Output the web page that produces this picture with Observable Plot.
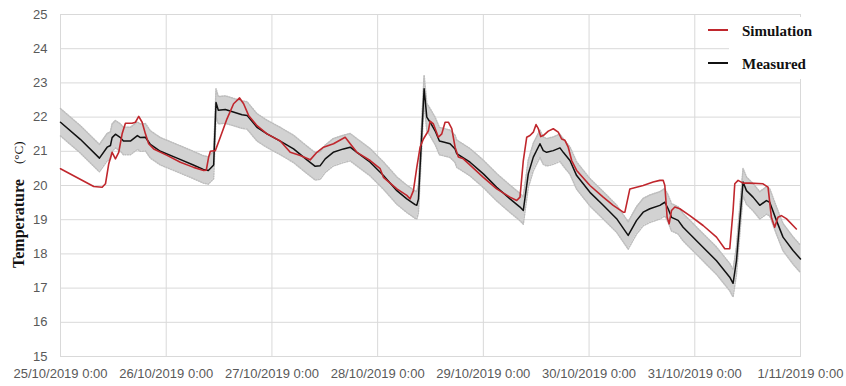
<!DOCTYPE html>
<html>
<head>
<meta charset="utf-8">
<script src="https://cdn.jsdelivr.net/npm/d3@7"></script>
<script src="https://cdn.jsdelivr.net/npm/@observablehq/plot@0.6"></script>
<style>
  body { margin: 0; background: #fff; }
  #chart svg { display: block; }
</style>
</head>
<body>
<div id="chart"></div>
<script>
// Hours since 25/10/2019 0:00 and measured indoor temperature (°C)
const measuredHours = [0, 4.5, 8.84, 10.59, 11.34, 11.72, 12.47, 13.61, 14.29, 15.87, 17.46, 18.14, 19.28, 20.41, 22.68, 26.47, 30.16, 32.43, 33.56, 34.40, 34.77,
  35.31, 35.83, 37.42, 39.23, 41.21, 42.34, 44.61, 46.88, 49.89, 52.91, 55.95, 57.83, 58.96, 60.10, 61.91, 64.25, 65.77, 67.29, 70.30, 73.32, 76.36, 78.62, 80.51, 80.89, 81.26,
  82.55, 83.16, 83.91, 85.04, 86.02, 86.93, 88.44, 89.58, 89.96, 92.98, 96.0, 99.03, 102.05, 104.32, 105.07, 106.2, 107.34, 108.85, 109.6, 110.37, 111.87, 113.39, 114.14,
  115.66, 117.18, 120.2, 123.21, 126.25, 128.88, 130.79, 132.28, 133.8, 136.07, 137.2, 137.95, 138.72, 140.22, 141.35, 145.13, 148.93, 151.94, 152.69, 153.46, 154.21,
  154.96, 155.73, 157.22, 158.75, 160.26, 161.01, 162.53, 164.03, 166.3, 168];
const measuredTemp = [21.85, 21.35, 20.8, 21.12, 21.17, 21.4, 21.5, 21.4, 21.3, 21.3, 21.46, 21.4, 21.41, 21.2, 21.0, 20.8, 20.6, 20.47, 20.44, 20.55, 20.6,
  22.43, 22.2, 22.22, 22.15, 22.07, 22.05, 21.7, 21.51, 21.3, 21.07, 20.75, 20.56, 20.58, 20.78, 20.97, 21.07, 21.12, 20.97, 20.68, 20.29, 19.85, 19.61, 19.44, 19.42, 19.6,
  22.83, 22.0, 21.85, 21.6, 21.3, 21.27, 21.22, 21.07, 20.93, 20.68, 20.34, 19.95, 19.61, 19.37, 19.27, 20.34, 20.83, 21.22, 21.02, 20.97, 21.02, 21.1, 20.97,
  20.73, 20.29, 19.8, 19.42, 19.03, 18.54, 18.98, 19.22, 19.32, 19.42, 19.51, 19.32, 19.07, 18.98, 18.78, 18.29, 17.8, 17.32, 17.14, 17.8, 18.95,
  20.1, 19.85, 19.66, 19.42, 19.56, 19.51, 18.98, 18.49, 18.1, 17.85];
// Measurement uncertainty (± °C) drawn as the grey band
const measuredError = 0.4;

// Hours since 25/10/2019 0:00 and simulated temperature (°C)
const simHours = [0, 7.55, 9.46, 10.21, 10.95, 11.72, 12.47, 13.22, 13.99, 14.74, 16.26, 17.01, 17.76, 18.53, 19.28, 20.02, 21.16, 24.2, 27.21, 30.23, 32.5, 33.1,
  33.63, 34.02, 35.15, 36.28, 37.8, 39.3, 40.66, 41.57, 42.7, 44.61, 46.88, 49.89, 52.16, 54.43, 56.69, 58.21, 59.71, 61.98, 64.63, 65.77, 67.29, 70.3, 72.57, 73.32,
  76.36, 78.62, 79.37, 80.12, 80.89, 81.64, 82.39, 83.52, 83.91, 84.66, 85.79, 86.56, 87.31, 88.06, 88.83, 89.58, 90.33, 91.46, 96.0, 99.03, 102.05, 103.57, 104.32,
  105.07, 105.84, 106.59, 107.34, 107.96, 108.48, 109.02, 109.6, 110.74, 111.87, 113.0, 113.77, 114.52, 115.27, 116.05, 117.18, 120.2, 123.21, 125.48, 127.75, 128.13,
  129.26, 132.28, 134.55, 136.07, 136.82, 137.2, 137.72, 138.18, 138.72, 139.47, 140.6, 142.87, 145.89, 148.93, 150.81, 151.94, 152.69, 153.08, 153.83, 154.96,
  156.47, 159.49, 160.63, 161.39, 162.14, 162.89, 163.66, 164.79, 167.06];
const simTemp = [20.49, 19.97, 19.95, 20.05, 20.63, 20.97, 20.78, 20.97, 21.51, 21.82, 21.82, 21.85, 22.02, 21.85, 21.51, 21.22, 21.07, 20.88, 20.68, 20.53, 20.44, 20.45,
  20.83, 21.0, 21.02, 21.41, 21.95, 22.39, 22.56, 22.39, 22.05, 21.75, 21.51, 21.3, 20.97, 20.88, 20.75, 20.97, 21.12, 21.22, 21.41, 21.22, 20.97, 20.73, 20.49, 20.24,
  19.9, 19.71, 19.61, 19.85, 20.53, 21.12, 21.36, 21.6, 21.88, 21.8, 21.41, 21.51, 21.85, 21.85, 21.66, 21.12, 20.83, 20.78, 20.24, 19.9, 19.66, 19.56, 19.66,
  20.73, 21.41, 21.46, 21.56, 21.78, 21.66, 21.43, 21.46, 21.59, 21.66, 21.56, 21.36, 21.32, 21.12, 20.73, 20.44, 20.0, 19.66, 19.42, 19.22, 19.22,
  19.9, 20.0, 20.1, 20.15, 20.15, 20.0, 19.07, 18.88, 19.27, 19.37, 19.32, 19.12, 18.83, 18.49, 18.15, 18.15, 19.27, 20.05, 20.15, 20.07,
  20.07, 20.05, 19.95, 19.07, 18.78, 19.07, 19.12, 19.03, 18.73];

// Axis ticks
const tickDays = [0, 1, 2, 3, 4, 5, 6, 7];
const tickLabels = ["25/10/2019 0:00", "26/10/2019 0:00", "27/10/2019 0:00", "28/10/2019 0:00",
  "29/10/2019 0:00", "30/10/2019 0:00", "31/10/2019 0:00", "1/11/2019 0:00"];
const yTicks = [15, 16, 17, 18, 19, 20, 21, 22, 23, 24, 25];

const start = Date.UTC(2019, 9, 25, 0, 0);
const HOUR = 3600 * 1000;
const toDate = h => new Date(start + h * HOUR);

const measured = measuredHours.map((h, i) => ({time: toDate(h), t: measuredTemp[i]}));
const simulated = simHours.map((h, i) => ({time: toDate(h), t: simTemp[i]}));
const tickDates = tickDays.map(d => toDate(d * 24));

const gridColor = "#d9d9d9";
const redColor = "#c0272d";

const chart = Plot.plot({
  width: 846,
  height: 386,
  marginLeft: 60,
  marginRight: 46,
  marginTop: 14,
  marginBottom: 30,
  style: {fontFamily: "'Liberation Sans', Arial, sans-serif", fontSize: "13px", color: "#595959", background: "#fff"},
  x: {type: "utc", domain: [tickDates[0], tickDates[tickDates.length - 1]]},
  y: {domain: [15, 25]},
  marks: [
    Plot.gridX(tickDates, {stroke: gridColor, strokeOpacity: 1}),
    Plot.gridY(yTicks, {stroke: gridColor, strokeOpacity: 1}),
    Plot.frame({stroke: gridColor}),
    Plot.areaY(measured, {x: "time", y1: d => d.t - measuredError, y2: d => d.t + measuredError, fill: "#d2d2d2"}),
    Plot.lineY(measured, {x: "time", y: d => d.t + measuredError, stroke: "#bdbdbd", strokeWidth: 1.5, strokeDasharray: "1,1.5"}),
    Plot.lineY(measured, {x: "time", y: d => d.t - measuredError, stroke: "#bdbdbd", strokeWidth: 1.5, strokeDasharray: "1,1.5"}),
    Plot.lineY(measured, {x: "time", y: "t", stroke: "#111", strokeWidth: 1.5}),
    Plot.lineY(simulated, {x: "time", y: "t", stroke: redColor, strokeWidth: 1.6}),
    Plot.axisY({ticks: yTicks, tickSize: 0, tickPadding: 13, label: null}),
    Plot.axisX({ticks: tickDates, tickFormat: (d, i) => tickLabels[i], tickSize: 0, tickPadding: 12, label: null})
  ]
});

document.getElementById("chart").appendChild(chart);

// Y-axis title and legend
const svg = d3.select(chart);
const serif = "'Liberation Serif', 'Times New Roman', serif";

svg.append("text")
  .attr("transform", "translate(24,268) rotate(-90)")
  .attr("text-anchor", "start")
  .attr("font-family", serif)
  .attr("font-weight", "bold")
  .attr("font-size", 16)
  .attr("fill", "#111")
  .text("Temperature");
svg.append("text")
  .attr("transform", "translate(23,164) rotate(-90)")
  .attr("text-anchor", "start")
  .attr("font-family", serif)
  .attr("font-size", 13)
  .attr("fill", "#111")
  .text("(°C)");

const legend = svg.append("g").attr("text-anchor", "start");
legend.append("rect").attr("x", 729).attr("y", 17).attr("width", 90).attr("height", 62).attr("fill", "#fff");
const legendItems = [
  {label: "Simulation", color: redColor, y: 30},
  {label: "Measured", color: "#111", y: 63}
];
legendItems.forEach(item => {
  legend.append("line")
    .attr("x1", 708).attr("x2", 728).attr("y1", item.y).attr("y2", item.y)
    .attr("stroke", item.color).attr("stroke-width", 2);
  legend.append("text")
    .attr("x", 742).attr("y", item.y + 6)
    .attr("text-anchor", "start")
    .attr("font-family", serif)
    .attr("font-weight", "bold")
    .attr("font-size", 15)
    .attr("fill", "#111")
    .text(item.label);
});
</script>
</body>
</html>
